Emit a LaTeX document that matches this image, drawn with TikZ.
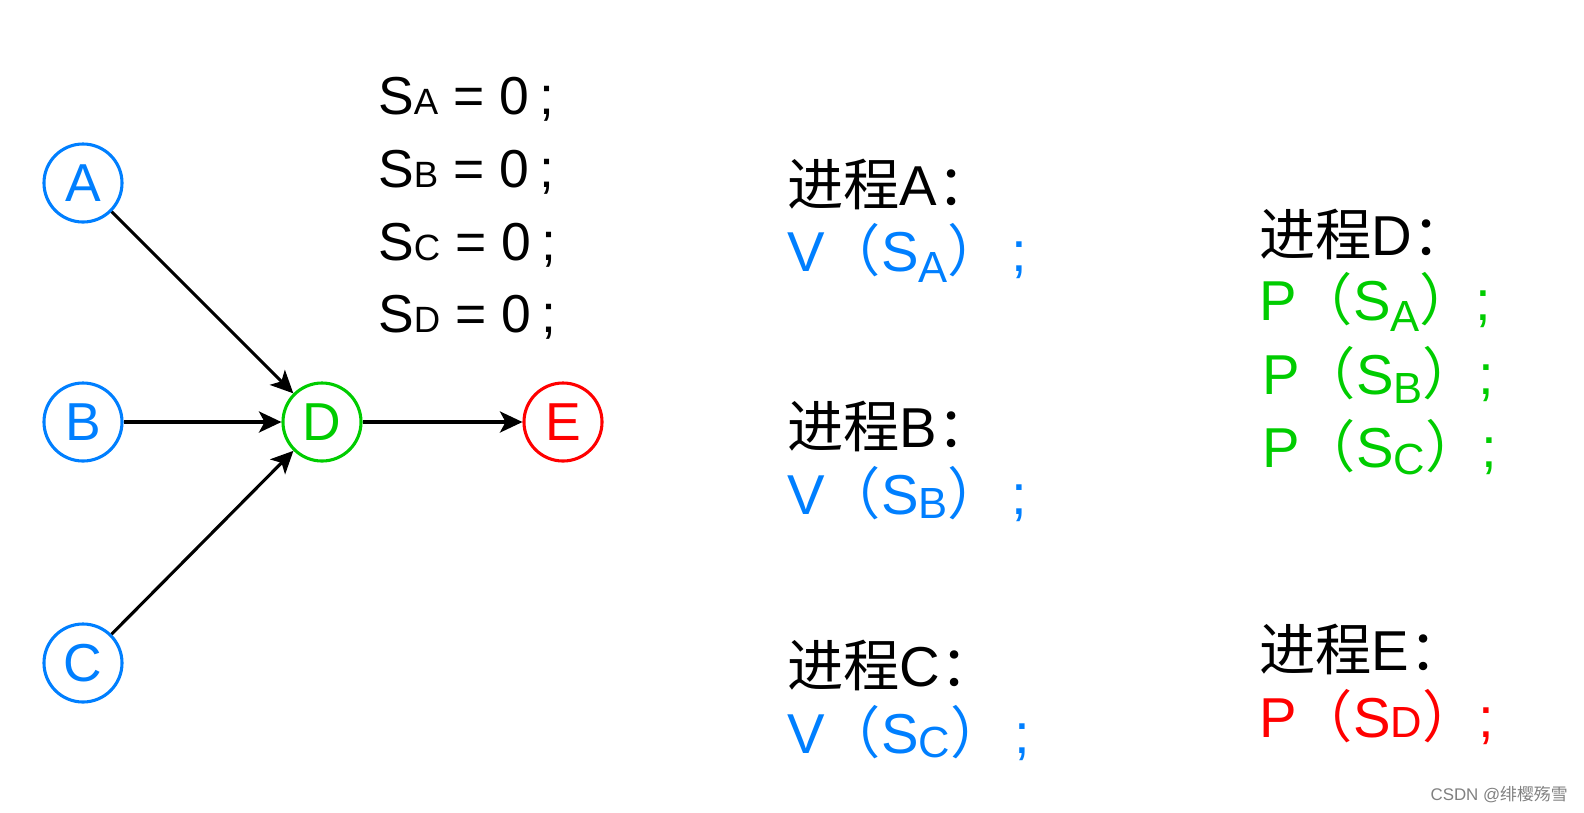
\documentclass[tikz,border=0pt]{standalone}
\usepackage{fontspec}
\setmainfont{Liberation Sans}
\newfontfamily\cjk{Noto Sans CJK SC}
\usetikzlibrary{arrows.meta}
\definecolor{procblue}{HTML}{007FFF}
\definecolor{procgreen}{HTML}{00CC00}
\definecolor{procred}{HTML}{FF0000}
\newcommand\zh[1]{{\cjk #1}}
\newcommand\sem[2][0pt]{\raisebox{#1}{\fontsize{26}{28}\selectfont #2}}
\newcommand\opnd[2][0pt]{\raisebox{#1}{\fontsize{31}{32}\selectfont #2}}
\newcommand\semi[1][0.14em]{\hspace{#1};}

\begin{document}
\begin{tikzpicture}[x=0.025cm, y=-0.025cm, every node/.style={font=\fontsize{40}{46}\selectfont, inner sep=0pt}, proc/.style={circle,draw,line width=2.2pt,minimum size=1.95cm,font=\fontsize{38}{44}\selectfont}, arr/.style={-{Stealth[length=16pt,width=15pt,inset=4pt]},line width=2.2pt}, line/.style={anchor=base west}]
\useasboundingbox (0,0) rectangle (1584,812);
% precedence graph
\node[proc,procblue] (A) at (83,183) {A};
\node[proc,procblue] (B) at (83,422) {B};
\node[proc,procblue] (C) at (83,663) {C};
\node[proc,procgreen] (D) at (322,422) {D};
\node[proc,procred] (E) at (563,422) {E};
\draw[arr] (A)--(D); \draw[arr] (B)--(D); \draw[arr] (C)--(D);
\draw[arr] (D)--(E);
% semaphores
\node[line,font=\fontsize{38}{44}\selectfont] (initA) at (378,114) {S\sem{A} = 0\semi[0.2em]};
\node[line,font=\fontsize{38}{44}\selectfont] (initB) at (378,187) {S\sem{B} = 0\semi[0.2em]};
\node[line,font=\fontsize{38}{44}\selectfont] (initC) at (378,260) {S\sem{C} = 0\semi[0.2em]};
\node[line,font=\fontsize{38}{44}\selectfont] (initD) at (378,332) {S\sem{D} = 0\semi[0.2em]};
% processes A, B, C
\node[line] (procA) at (787,205) {\zh{进程}A\zh{：}};
\node[line,procblue] (codeA) at (787,271) {V\zh{（}S\opnd[-8pt]{A}\zh{）}\semi};
\node[line] (procB) at (787,447) {\zh{进程}B\zh{：}};
\node[line,procblue] (codeB) at (787,514) {V\zh{（}S\opnd[-3pt]{B}\zh{）}\semi};
\node[line] (procC) at (787,686) {\zh{进程}C\zh{：}};
\node[line,procblue] (codeC) at (787,753) {V\zh{（}S\opnd[-3pt]{C}\zh{）}\semi};
% processes D, E
\node[line] (procD) at (1259,255) {\zh{进程}D\zh{：}};
\node[line,procgreen] (codeDa) at (1259,320) {P\zh{（}S\opnd[-8pt]{A}\zh{）}\semi[0em]};
\node[line,procgreen] (codeDb) at (1262,394) {P\zh{（}S\opnd[-7pt]{B}\zh{）}\semi[0em]};
\node[line,procgreen] (codeDc) at (1262,467) {P\zh{（}S\opnd[-5pt]{C}\zh{）}\semi[0em]};
\node[line] (procE) at (1259,670) {\zh{进程}E\zh{：}};
\node[line,procred] (codeE) at (1259,737) {P\zh{（}S\opnd{D}\zh{）}\semi[0em]};
\node[anchor=base east,font=\fontsize{12}{14}\selectfont,text=gray] (mark) at (1568,800) {CSDN @\zh{绯樱殇雪}};
\end{tikzpicture}
\end{document}
